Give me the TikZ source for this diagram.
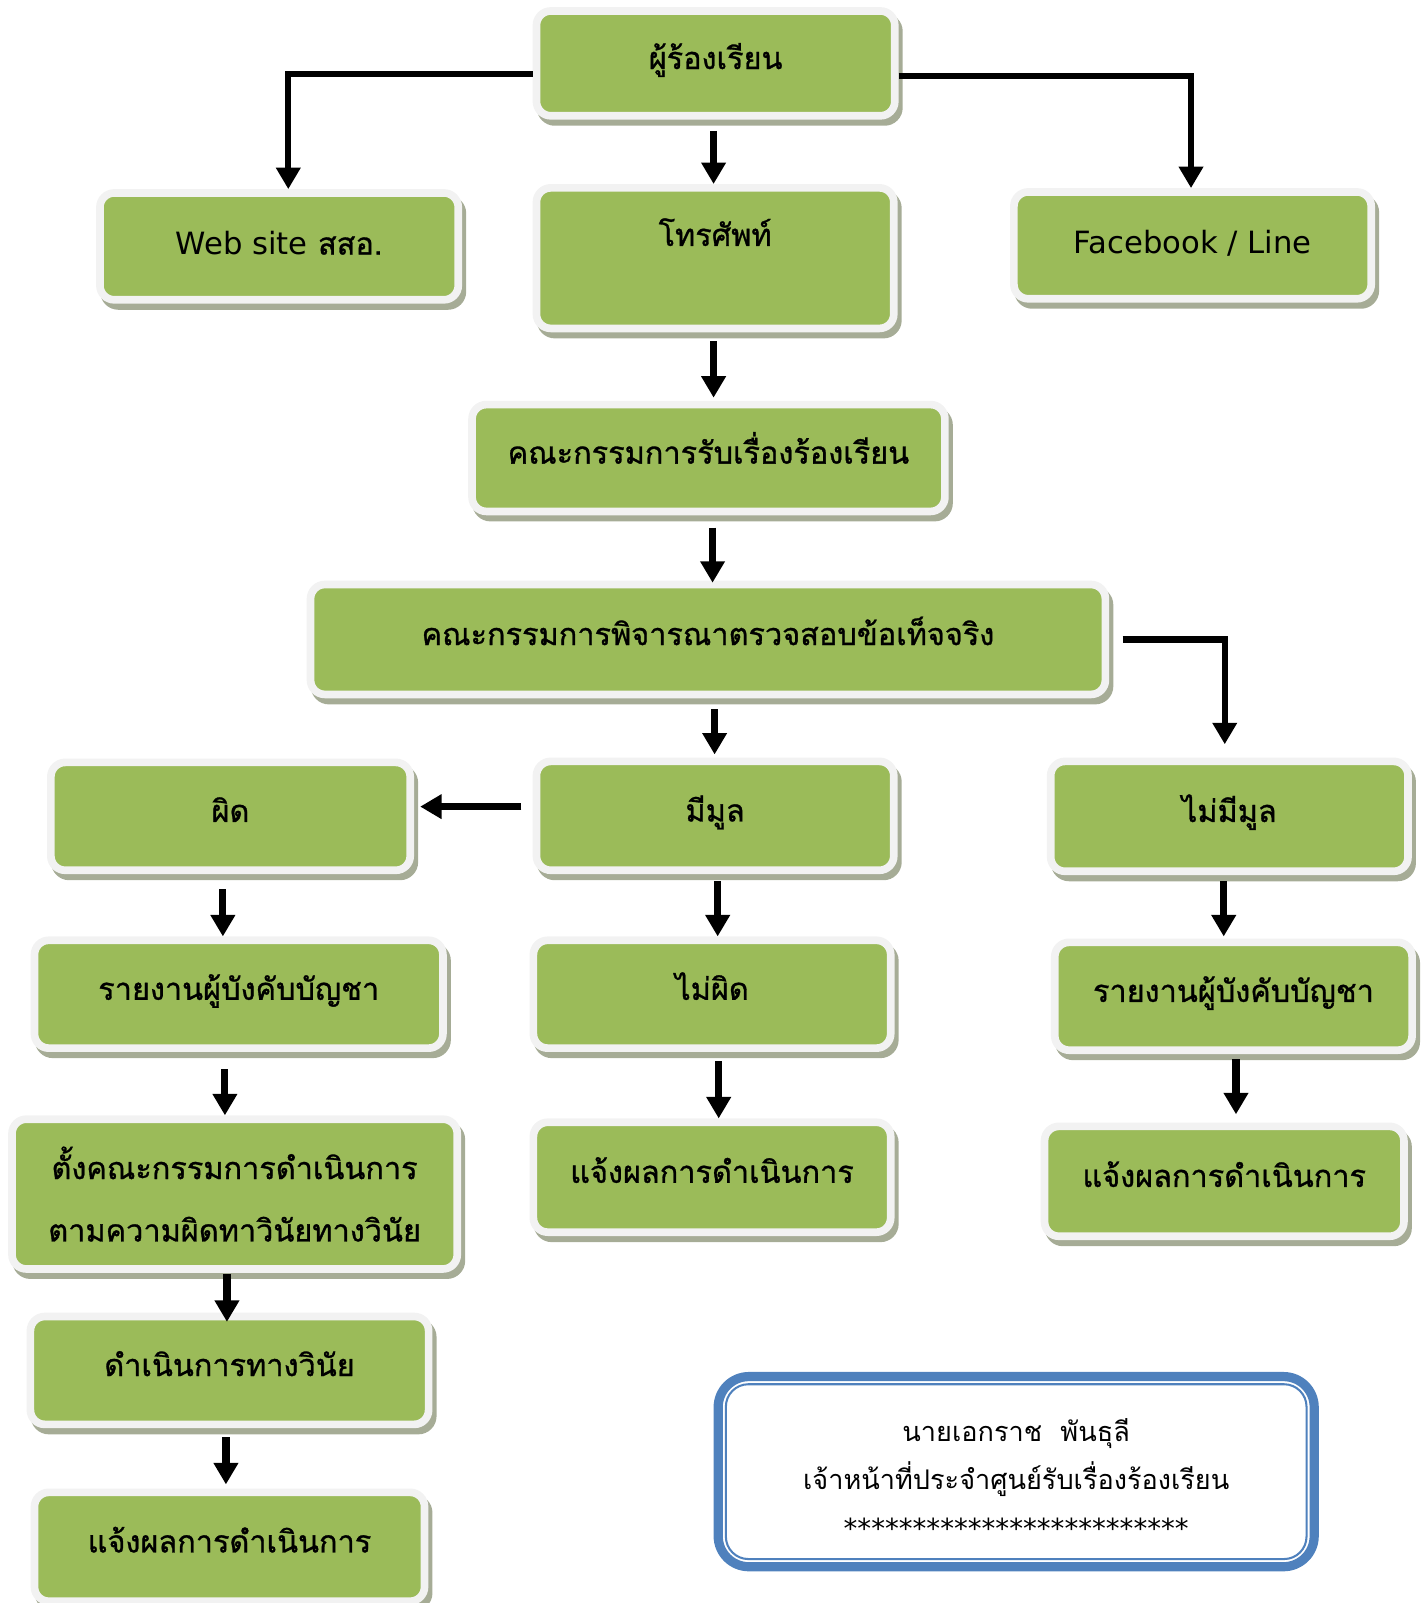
\documentclass[tikz,border=0pt]{standalone}
\usepackage{fontspec}
\setmainfont[Script=Thai]{Loma}
\newfontfamily\thaibold[Script=Thai, FakeBold=1]{Loma}
\newfontfamily\latinf{DejaVu Sans}
\usetikzlibrary{arrows.meta}
\definecolor{boxgreen}{RGB}{155,187,89}
\definecolor{boxrim}{RGB}{242,242,242}
\definecolor{boxshadow}{RGB}{166,172,150}
\definecolor{sigblue}{RGB}{79,129,189}
\tikzset{
  gbox/.style={rectangle, rounded corners=14pt, fill=boxgreen, draw=boxrim,
    line width=7.5pt, inner sep=0pt, align=center,
    font=\thaibold\fontsize{30}{36}\selectfont,
    preaction={fill=boxshadow, draw=boxshadow, transform canvas={shift={(4pt,-6pt)}}}},
  gone/.style={gbox, text height=20pt, text depth=9pt},
  sigbox/.style={rectangle, rounded corners=30pt, fill=white, draw=sigblue,
    line width=9pt, inner sep=0pt, align=center,
    font=\fontsize{26.5}{47}\selectfont},
  arr/.style={line width=7pt, -{Triangle[width=23pt,length=21pt]}},
  elb/.style={line width=6pt, -{Triangle[width=23pt,length=21pt]}},
}
\begin{document}
\begin{tikzpicture}[x=1pt,y=-1pt]
\useasboundingbox (0,0) rectangle (1395,1568);
% boxes
\node[gone, minimum width=350.5pt, minimum height=102.5pt] (top) at (700,62) {ผู้ร้องเรียน};
\node[gone, minimum width=350.5pt, minimum height=104.5pt, text depth=4pt] (web) at (273,241) {{\latinf Web site} สสอ.};
\node[gone, minimum width=349.5pt, minimum height=137.5pt, text depth=44pt] (phone) at (699.5,252.5) {โทรศัพท์};
\node[gone, minimum width=349.5pt, minimum height=104.5pt, text depth=4pt] (fb) at (1166.5,240) {\latinf Facebook / Line};
\node[gone, minimum width=462.5pt, minimum height=104.5pt] (rec) at (693,448) {คณะกรรมการรับเรื่องร้องเรียน};
\node[gone, minimum width=777.5pt, minimum height=107.5pt] (cons) at (692.5,625.5) {คณะกรรมการพิจารณาตรวจสอบข้อเท็จจริง};
\node[gone, minimum width=351.5pt, minimum height=105.5pt] (wrong) at (225.5,798.5) {ผิด};
\node[gone, minimum width=349.5pt, minimum height=106.5pt] (merit) at (699.5,798) {มีมูล};
\node[gone, minimum width=349.5pt, minimum height=107.5pt] (nomerit) at (1202.5,798.5) {ไม่มีมูล};
\node[gone, minimum width=399.5pt, minimum height=105.5pt] (repL) at (233.5,972.5) {รายงานผู้บังคับบัญชา};
\node[gone, minimum width=349.5pt, minimum height=105.5pt] (notwrong) at (696.5,972.5) {ไม่ผิด};
\node[gone, minimum width=349.5pt, minimum height=105.5pt] (repR) at (1206.5,974.5) {รายงานผู้บังคับบัญชา};
\node[gbox, minimum width=435.5pt, minimum height=146.5pt, font=\thaibold\fontsize{30}{61}\selectfont] (setup) at (229.5,1168) {ตั้งคณะกรรมการดำเนินการ\\ตามความผิดทาวินัยทางวินัย};
\node[gone, minimum width=349.5pt, minimum height=107.5pt] (notifM) at (696.5,1151.5) {แจ้งผลการดำเนินการ};
\node[gone, minimum width=351.5pt, minimum height=107.5pt] (notifR) at (1197.5,1155.5) {แจ้งผลการดำเนินการ};
\node[gone, minimum width=389.5pt, minimum height=105.5pt] (disc) at (224.5,1340.5) {ดำเนินการทางวินัย};
\node[gone, minimum width=381.5pt, minimum height=106.5pt] (notifL) at (224.5,1513) {แจ้งผลการดำเนินการ};
% signature box
\node[sigbox, minimum width=583pt, minimum height=186pt] (sig) at (994,1439.5)
  {\rule{0pt}{36pt}นายเอกราช\ \ พันธุลี\\เจ้าหน้าที่ประจำศูนย์รับเรื่องร้องเรียน\\[1pt]{\latinf\fontsize{27}{30}\selectfont *************************}};
\draw[sigblue, line width=2pt, rounded corners=22pt]
  ([shift={(12pt,-12pt)}]sig.north west) rectangle ([shift={(-12pt,12pt)}]sig.south east);
% connectors
\draw[elb] ([yshift=-10pt]top.west) -| ([xshift=9pt]web.north);
\draw[elb] ([yshift=-12pt]top.east) -| ([xshift=-1.5pt]fb.north);
\draw[arr, shorten <=11pt] ([xshift=-2pt]top.south) -- ([xshift=-2pt]top.south |- phone.north);
\draw[arr, shorten <=9pt, shorten >=3pt] ([xshift=-1.5pt]phone.south) -- ([xshift=-1.5pt]phone.south |- rec.north);
\draw[arr, shorten <=12pt, shorten >=-2pt] ([xshift=4pt]rec.south) -- ([xshift=4pt]rec.south |- cons.north);
\draw[elb, shorten <=13pt, shorten >=13pt] (cons.east) -| ([xshift=-4.5pt]nomerit.north);
\draw[arr, shorten <=11pt, shorten >=3pt] ([xshift=6.5pt]cons.south) -- ([xshift=6.5pt]cons.south |- merit.north);
\draw[arr, shorten <=11pt, shorten >=6pt] ([yshift=9pt]merit.west) -- ([yshift=9pt]merit.west -| wrong.east);
\draw[arr, shorten <=15pt] ([xshift=-7.5pt]wrong.south) -- ([xshift=-7.5pt]wrong.south |- repL.north);
\draw[arr, shorten <=7pt] ([xshift=2.5pt]merit.south) -- ([xshift=2.5pt]merit.south |- notwrong.north);
\draw[arr, shorten <=6pt, shorten >=2pt] ([xshift=-5.5pt]nomerit.south) -- ([xshift=-5.5pt]nomerit.south |- repR.north);
\draw[arr, shorten <=17pt] ([xshift=-13.5pt]repL.south) -- ([xshift=-13.5pt]repL.south |- setup.north);
\draw[arr, shorten <=9pt] ([xshift=6.5pt]notwrong.south) -- ([xshift=6.5pt]notwrong.south |- notifM.north);
\draw[arr, shorten <=5pt, shorten >=8pt] ([xshift=2.5pt]repR.south) -- ([xshift=2.5pt]repR.south |- notifR.north);
\draw[arr, shorten <=1pt, shorten >=-9pt] ([xshift=-7.5pt]setup.south) -- ([xshift=-7.5pt]setup.south |- disc.north);
\draw[arr, shorten <=9pt, shorten >=4pt] ([xshift=-3.5pt]disc.south) -- ([xshift=-3.5pt]disc.south |- notifL.north);
\end{tikzpicture}
\end{document}
